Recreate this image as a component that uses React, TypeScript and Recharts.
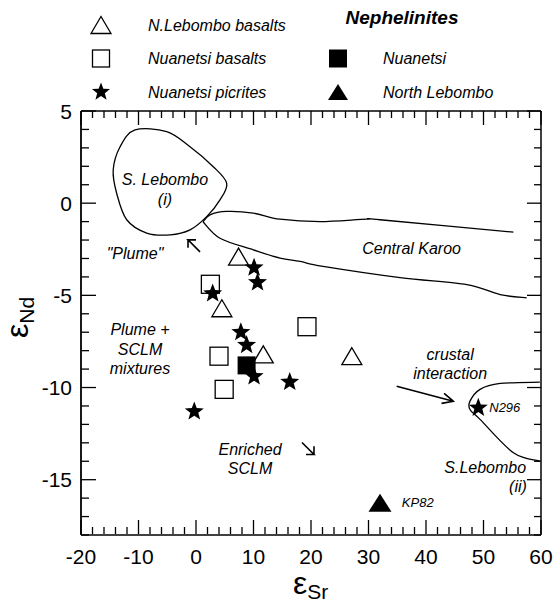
import React from "react";
import { ScatterChart, Scatter, XAxis, YAxis } from "recharts";

// ---------- data ----------
const nLebomboBasalts = [
  { x: 7.4, y: -2.9 },
  { x: 4.5, y: -5.7 },
  { x: 11.7, y: -8.2 },
  { x: 27.1, y: -8.3 },
];
const nuanetsiBasalts = [
  { x: 2.5, y: -4.4 },
  { x: 19.3, y: -6.7 },
  { x: 4.0, y: -8.3 },
  { x: 4.9, y: -10.1 },
];
const nuanetsiPicrites = [
  { x: 10.1, y: -3.5 },
  { x: 10.7, y: -4.3 },
  { x: 2.9, y: -4.9 },
  { x: 7.8, y: -7.0 },
  { x: 8.8, y: -7.7 },
  { x: 10.1, y: -9.4 },
  { x: 16.3, y: -9.7 },
  { x: -0.3, y: -11.3 },
  { x: 49.1, y: -11.1 },
];
const nephNuanetsi = [{ x: 8.8, y: -8.8 }];
const nephNorthLebombo = [{ x: 32.0, y: -16.25 }];

const xTicks = [-20, -18, -16, -14, -12, -10, -8, -6, -4, -2, 0, 2, 4, 6, 8, 10, 12, 14, 16, 18, 20, 22, 24, 26, 28, 30, 32, 34, 36, 38, 40, 42, 44, 46, 48, 50, 52, 54, 56, 58, 60];
const yTicks = [5, 4, 3, 2, 1, 0, -1, -2, -3, -4, -5, -6, -7, -8, -9, -10, -11, -12, -13, -14, -15, -16, -17, -18];

// field outlines
const sLebomboI = [
  { x: -10.6, y: 3.97 }, { x: -5.1, y: 3.88 }, { x: -1.04, y: 3.06 }, { x: 3.0, y: 1.98 },
  { x: 5.34, y: 1.08 }, { x: 4.17, y: 0.18 }, { x: 1.86, y: -0.73 }, { x: -1.04, y: -1.45 },
  { x: -4.5, y: -1.72 }, { x: -8.57, y: -1.62 }, { x: -12.05, y: -0.9 }, { x: -13.8, y: 0.54 },
  { x: -14.4, y: 1.8 }, { x: -13.2, y: 3.06 },
];
const centralKarooUpper = [
  { x: 1.22, y: -1.01 }, { x: 2.43, y: -0.63 }, { x: 5.34, y: -0.45 }, { x: 9.97, y: -0.54 },
  { x: 14.6, y: -0.87 }, { x: 21.6, y: -1.0 }, { x: 29.7, y: -0.87 }, { x: 32.0, y: -0.9 },
  { x: 55.2, y: -1.57 },
];
const centralKarooLower = [
  { x: 1.22, y: -1.01 }, { x: 4.17, y: -1.9 }, { x: 9.97, y: -2.53 }, { x: 14.6, y: -2.98 },
  { x: 18.1, y: -3.16 }, { x: 22.1, y: -3.43 }, { x: 35.5, y: -4.04 }, { x: 47.1, y: -4.42 },
  { x: 52.9, y: -4.96 }, { x: 57.5, y: -5.14 },
];
const sLebomboII = [
  { x: 59.8, y: -9.71 }, { x: 52.9, y: -9.78 }, { x: 49.4, y: -10.1 }, { x: 47.65, y: -10.74 },
  { x: 47.65, y: -11.19 }, { x: 49.4, y: -11.73 }, { x: 55.2, y: -13.54 }, { x: 59.8, y: -13.99 },
];

const plumeArrow = [
  { x: 0.7, y: -2.64 }, { x: -1.39, y: -1.99 }, { x: 0.0, y: -1.99 }, { x: -1.39, y: -1.99 }, { x: -1.39, y: -2.42 },
];
const enrichedArrow = [
  { x: 18.43, y: -12.98 }, { x: 20.52, y: -13.63 }, { x: 19.13, y: -13.63 }, { x: 20.52, y: -13.63 }, { x: 20.52, y: -13.19 },
];
const crustalArrow = [
  { x: 34.9, y: -9.93 }, { x: 44.75, y: -10.74 }, { x: 43.15, y: -10.32 }, { x: 44.75, y: -10.74 }, { x: 42.7, y: -10.86 },
];

const annotations = [
  { x: -5.4, y: 1.26, text: "S. Lebombo", anchor: "middle" },
  { x: -5.4, y: 0.18, text: "(i)", anchor: "middle" },
  { x: 37.5, y: -2.44, text: "Central Karoo", anchor: "middle" },
  { x: -10.6, y: -2.71, text: "\"Plume\"", anchor: "middle" },
  { x: -9.74, y: -6.86, text: "Plume +", anchor: "middle" },
  { x: -9.74, y: -7.94, text: "SCLM", anchor: "middle" },
  { x: -9.74, y: -8.97, text: "mixtures", anchor: "middle" },
  { x: 9.4, y: -13.36, text: "Enriched", anchor: "middle" },
  { x: 9.4, y: -14.4, text: "SCLM", anchor: "middle" },
  { x: 44.2, y: -8.2, text: "crustal", anchor: "middle" },
  { x: 44.2, y: -9.25, text: "interaction", anchor: "middle" },
  { x: 50.3, y: -14.33, text: "S.Lebombo", anchor: "middle" },
  { x: 56.0, y: -15.35, text: "(ii)", anchor: "middle" },
];
const smallLabels = [
  { x: 51.0, y: -11.1, text: "N296", anchor: "start" },
  { x: 35.8, y: -16.25, text: "KP82", anchor: "start" },
];

// ---------- styles ----------
const FONT = "'Liberation Sans', Arial, Helvetica, sans-serif";
const W = 556;
const H = 607;

// ---------- helpers ----------
function starPath(cx: number, cy: number, R: number, r: number) {
  let d = "";
  for (let i = 0; i < 10; i++) {
    const rad = i % 2 === 0 ? R : r;
    const a = -Math.PI / 2 + (i * Math.PI) / 5;
    d += (i === 0 ? "M" : "L") + (cx + rad * Math.cos(a)).toFixed(2) + "," + (cy + rad * Math.sin(a)).toFixed(2);
  }
  return d + "Z";
}
function triPoints(cx: number, cy: number, w: number, h: number) {
  return `${cx},${cy - h / 2} ${cx - w / 2},${cy + h / 2} ${cx + w / 2},${cy + h / 2}`;
}
function catmull(pts: { x: number; y: number }[], closed: boolean) {
  if (!pts || pts.length < 2) return "";
  const n = pts.length;
  const get = (i: number) => {
    if (closed) return pts[(i + n) % n];
    return pts[Math.max(0, Math.min(n - 1, i))];
  };
  let d = `M${pts[0].x},${pts[0].y}`;
  const segs = closed ? n : n - 1;
  for (let i = 0; i < segs; i++) {
    const p0 = get(i - 1), p1 = get(i), p2 = get(i + 1), p3 = get(i + 2);
    const c1x = p1.x + (p2.x - p0.x) / 6, c1y = p1.y + (p2.y - p0.y) / 6;
    const c2x = p2.x - (p3.x - p1.x) / 6, c2y = p2.y - (p3.y - p1.y) / 6;
    d += ` C${c1x},${c1y} ${c2x},${c2y} ${p2.x},${p2.y}`;
  }
  return closed ? d + "Z" : d;
}

const Empty = () => <g />;
const OpenTriangle = (p: any) => (
  <polygon points={triPoints(p.cx, p.cy, 20, 17)} fill="#fff" stroke="#000" strokeWidth={1.3} />
);
const OpenSquare = (p: any) => (
  <rect x={p.cx - 9} y={p.cy - 9} width={18} height={18} fill="#fff" stroke="#000" strokeWidth={1.3} />
);
const Star = (p: any) => <path d={starPath(p.cx, p.cy, 10, 4.2)} fill="#000" />;
const FilledSquare = (p: any) => <rect x={p.cx - 9} y={p.cy - 9} width={18} height={18} fill="#000" />;
const FilledTriangle = (p: any) => <polygon points={triPoints(p.cx, p.cy, 23, 18)} fill="#000" />;

const AnnoText = (p: any) => (
  <text x={p.cx} y={p.cy} textAnchor={p.payload.anchor} dominantBaseline="central" fontFamily={FONT}
    fontStyle="italic" fontSize={16} fill="#000">{p.payload.text}</text>
);
const SmallText = (p: any) => (
  <text x={p.cx} y={p.cy} textAnchor={p.payload.anchor} dominantBaseline="central" fontFamily={FONT}
    fontStyle="italic" fontSize={13} fill="#000">{p.payload.text}</text>
);

const smoothOpen = (lp: any) => <path d={catmull(lp.points, false)} fill="none" stroke="#000" strokeWidth={1.3} />;
const smoothClosed = (lp: any) => <path d={catmull(lp.points, true)} fill="none" stroke="#000" strokeWidth={1.3} />;
const polyLine = (lp: any) => (
  <path d={lp.points.map((q: any, i: number) => `${i ? "L" : "M"}${q.x},${q.y}`).join(" ")} fill="none"
    stroke="#000" strokeWidth={1.6} strokeLinejoin="miter" />
);

// ---------- ticks ----------
const BottomTick = (p: any) => {
  const v = p.payload.value;
  const major = v % 10 === 0;
  return (
    <g>
      <line x1={p.x} x2={p.x} y1={p.y - 1} y2={p.y - 1 - (major ? 14 : 7)} stroke="#000" strokeWidth={1.3} />
      {major && (
        <text x={p.x} y={p.y + 29} textAnchor="middle" fontFamily={FONT} fontSize={21} fill="#000">{v}</text>
      )}
    </g>
  );
};
const TopTick = (p: any) => {
  const v = p.payload.value;
  const major = v % 10 === 0;
  return <line x1={p.x} x2={p.x} y1={p.y} y2={p.y + (major ? 14 : 7)} stroke="#000" strokeWidth={1.3} />;
};
const LeftTick = (p: any) => {
  const v = p.payload.value;
  const major = v % 5 === 0;
  return (
    <g>
      <line x1={p.x} x2={p.x + (major ? 15 : 8)} y1={p.y} y2={p.y} stroke="#000" strokeWidth={1.3} />
      {major && (
        <text x={p.x - 9} y={p.y} textAnchor="end" dominantBaseline="central" fontFamily={FONT} fontSize={21} fill="#000">{v}</text>
      )}
    </g>
  );
};
const RightTick = (p: any) => {
  const v = p.payload.value;
  const major = v % 5 === 0;
  return <line x1={p.x} x2={p.x - (major ? 14 : 7)} y1={p.y} y2={p.y} stroke="#000" strokeWidth={1.3} />;
};

// ---------- overlay (legend + axis titles) ----------
const Overlay = () => (
  <svg width={W} height={H} style={{ position: "absolute", left: 0, top: 0, pointerEvents: "none" }}>
    <g fontFamily={FONT} fill="#000">
      <polygon points={triPoints(101, 25, 20, 17)} fill="#fff" stroke="#000" strokeWidth={1.3} />
      <text x={148} y={25} dominantBaseline="central" fontSize={16} fontStyle="italic">N.Lebombo basalts</text>
      <rect x={92.5} y={50} width={17} height={17} fill="#fff" stroke="#000" strokeWidth={1.3} />
      <text x={148} y={58.5} dominantBaseline="central" fontSize={16} fontStyle="italic">Nuanetsi basalts</text>
      <path d={starPath(101, 92, 9.5, 4)} fill="#000" />
      <text x={148} y={92} dominantBaseline="central" fontSize={16} fontStyle="italic">Nuanetsi picrites</text>

      <text x={402} y={17} textAnchor="middle" dominantBaseline="central" fontSize={19} fontStyle="italic" fontWeight="bold">Nephelinites</text>
      <rect x={329} y={49.5} width={18} height={18} fill="#000" />
      <text x={383} y={58.5} dominantBaseline="central" fontSize={16} fontStyle="italic">Nuanetsi</text>
      <polygon points={triPoints(338, 92, 20, 16)} fill="#000" />
      <text x={383} y={92} dominantBaseline="central" fontSize={16} fontStyle="italic">North Lebombo</text>

      <text x={293} y={594} fontSize={32}>ε<tspan fontSize={21} dy={5}>Sr</tspan></text>
      <text transform="translate(28,338) rotate(-90)" fontSize={32}>ε<tspan fontSize={21} dy={6}>Nd</tspan></text>
    </g>
  </svg>
);

export default function App() {
  return (
    <div style={{ position: "absolute", left: 0, top: 0, width: W, height: H, background: "#fff" }}>
      <ScatterChart width={W} height={H} margin={{ top: 110, right: 14, bottom: 71, left: 80 }}>
        <XAxis xAxisId="b" type="number" dataKey="x" domain={[-20, 60]} allowDataOverflow ticks={xTicks}
          interval={0} height={1} tickSize={0} tickMargin={0} tickLine={false} tick={BottomTick}
          axisLine={{ stroke: "#000", strokeWidth: 1.5 }} orientation="bottom" />
        <XAxis xAxisId="t" type="number" dataKey="x" domain={[-20, 60]} allowDataOverflow ticks={xTicks}
          interval={0} height={1} tickSize={0} tickMargin={0} tickLine={false} tick={TopTick}
          axisLine={{ stroke: "#000", strokeWidth: 1.5 }} orientation="top" />
        <YAxis yAxisId="l" type="number" dataKey="y" domain={[-18, 5]} allowDataOverflow ticks={yTicks}
          interval={0} width={1} tickSize={0} tickMargin={0} tickLine={false} tick={LeftTick}
          axisLine={{ stroke: "#000", strokeWidth: 1.8 }} orientation="left" />
        <YAxis yAxisId="r" type="number" dataKey="y" domain={[-18, 5]} allowDataOverflow ticks={yTicks}
          interval={0} width={1} tickSize={0} tickMargin={0} tickLine={false} tick={RightTick}
          axisLine={{ stroke: "#000", strokeWidth: 1.5 }} orientation="right" />

        <Scatter xAxisId="t" yAxisId="r" data={sLebomboI} line={smoothClosed} lineType="joint" shape={Empty} isAnimationActive={false} />
        <Scatter xAxisId="t" yAxisId="r" data={centralKarooUpper} line={smoothOpen} lineType="joint" shape={Empty} isAnimationActive={false} />
        <Scatter xAxisId="t" yAxisId="r" data={centralKarooLower} line={smoothOpen} lineType="joint" shape={Empty} isAnimationActive={false} />
        <Scatter xAxisId="t" yAxisId="r" data={sLebomboII} line={smoothOpen} lineType="joint" shape={Empty} isAnimationActive={false} />
        <Scatter xAxisId="t" yAxisId="r" data={plumeArrow} line={polyLine} lineType="joint" shape={Empty} isAnimationActive={false} />
        <Scatter xAxisId="t" yAxisId="r" data={enrichedArrow} line={polyLine} lineType="joint" shape={Empty} isAnimationActive={false} />
        <Scatter xAxisId="t" yAxisId="r" data={crustalArrow} line={polyLine} lineType="joint" shape={Empty} isAnimationActive={false} />

        <Scatter xAxisId="b" yAxisId="l" data={annotations} shape={AnnoText} isAnimationActive={false} />
        <Scatter xAxisId="b" yAxisId="l" data={smallLabels} shape={SmallText} isAnimationActive={false} />

        <Scatter xAxisId="b" yAxisId="l" name="N.Lebombo basalts" data={nLebomboBasalts} shape={OpenTriangle} isAnimationActive={false} />
        <Scatter xAxisId="b" yAxisId="l" name="Nuanetsi basalts" data={nuanetsiBasalts} shape={OpenSquare} isAnimationActive={false} />
        <Scatter xAxisId="b" yAxisId="l" name="Nuanetsi (nephelinite)" data={nephNuanetsi} shape={FilledSquare} isAnimationActive={false} />
        <Scatter xAxisId="b" yAxisId="l" name="Nuanetsi picrites" data={nuanetsiPicrites} shape={Star} isAnimationActive={false} />
        <Scatter xAxisId="b" yAxisId="l" name="North Lebombo (nephelinite)" data={nephNorthLebombo} shape={FilledTriangle} isAnimationActive={false} />
      </ScatterChart>
      <Overlay />
    </div>
  );
}
